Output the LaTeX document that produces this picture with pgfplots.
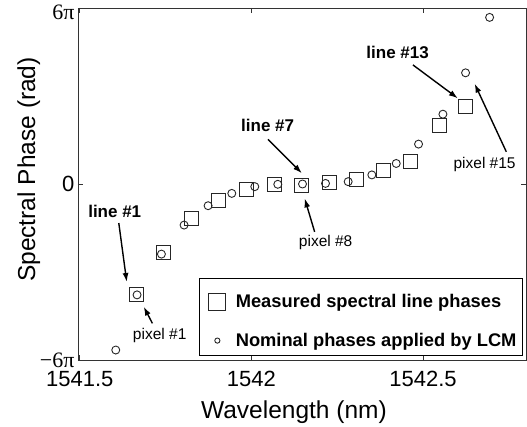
\documentclass[border=0pt]{standalone}
\usepackage{fontspec}
\setmainfont{Liberation Sans}
\newfontfamily\seriffont{Liberation Serif}
\usepackage{pgfplots}
\pgfplotsset{compat=1.18}
\usetikzlibrary{arrows.meta}
\begin{document}
\begin{tikzpicture}
\useasboundingbox (-78pt,-66pt) rectangle (449pt,360pt);
\begin{axis}[
  at={(0,0)}, anchor=south west,
  scale only axis, width=448pt, height=352pt,
  xmin=1541.495, xmax=1542.8, ymin=-6, ymax=6,
  xtick={1541.5,1542,1542.5}, xticklabels={1541.5,1542,1542.5},
  ytick={-6,0}, yticklabels={{\seriffont −6π},0},
  extra y ticks={6}, extra y tick labels={{\seriffont 6π}},
  extra y tick style={yticklabel style={yshift=-4pt}},
  tick align=inside, major tick length=5pt,
  tick style={black!80, line width=0.8pt},
  x tick label style={font=\fontsize{22}{26}\selectfont, anchor=base, yshift=-26pt},
  y tick label style={font=\fontsize{22}{26}\selectfont},
  xlabel={Wavelength (nm)}, ylabel={Spectral Phase (rad)},
  xlabel style={at={(axis description cs:0.482,-0.148)}, anchor=center, font=\fontsize{24.5}{28}\selectfont},
  ylabel style={at={(axis description cs:-0.110,0.541)}, anchor=center, rotate=0, font=\fontsize{24.5}{28}\selectfont},
  clip=false,
  axis line style={black!80, line width=0.8pt},
  legend cell align=left,
  legend style={at={(axis description cs:0.993,0.233)}, anchor=north east,
    draw=black, line width=0.8pt, font=\bfseries\fontsize{18.3}{21}\selectfont,
    inner xsep=4pt, inner ysep=5pt, row sep=20pt},
]
\addplot[only marks, mark=square, mark size=7pt, black!85, line width=0.9pt,
  legend image code/.code={\path (-14pt,0) (16pt,18pt); \draw[mark=square, mark size=8.5pt, black!85, line width=0.9pt] plot coordinates {(0pt,0pt)};}]
coordinates {
(1541.665,-3.78) (1541.745,-2.35) (1541.825,-1.19) (1541.905,-0.55)
(1541.985,-0.20) (1542.068,-0.03) (1542.147,-0.06) (1542.228,0.06)
(1542.307,0.17) (1542.385,0.45) (1542.463,0.76) (1542.548,1.98)
(1542.624,2.66)
};
\addlegendentry{Measured spectral line phases}
\addplot[only marks, mark=o, mark size=4pt, black!85, line width=0.9pt,
  legend image code/.code={\path (-14pt,0) (16pt,0); \draw[mark=o, mark size=2.6pt, black!85, line width=0.9pt] plot coordinates {(0pt,0pt)};}]
coordinates {
(1541.605,-5.66) (1541.667,-3.78) (1541.738,-2.39) (1541.804,-1.40)
(1541.874,-0.74) (1541.943,-0.32) (1542.010,-0.09) (1542.077,-0.01)
(1542.149,0.00) (1542.216,0.02) (1542.282,0.08) (1542.351,0.31)
(1542.422,0.70) (1542.487,1.36) (1542.558,2.38) (1542.624,3.79)
(1542.694,5.68)
};
\addlegendentry{Nominal phases applied by LCM}
% annotations
\tikzset{ann/.style={-{Latex[length=9pt,width=6pt]}, line width=1.4pt, black}}
\node[font=\bfseries\fontsize{17}{20}\selectfont] at (axis cs:1541.602,-0.92) {line \#1};
\draw[ann] (axis cs:1541.6138,-1.33) -- (axis cs:1541.637,-3.34);
\node[font=\fontsize{15.5}{18}\selectfont] at (axis cs:1541.733,-5.18) {pixel \#1};
\draw[ann] (axis cs:1541.7117,-4.75) -- (axis cs:1541.6864,-4.18);
\node[font=\bfseries\fontsize{17}{20}\selectfont] at (axis cs:1542.0475,1.98) {line \#7};
\draw[ann] (axis cs:1542.0483,1.52) -- (axis cs:1542.1473,0.365);
\node[font=\fontsize{15.5}{18}\selectfont] at (axis cs:1542.2164,-1.98) {pixel \#8};
\draw[ann] (axis cs:1542.1843,-1.63) -- (axis cs:1542.1552,-0.49);
\node[font=\bfseries\fontsize{17}{20}\selectfont] at (axis cs:1542.426,4.47) {line \#13};
\draw[ann] (axis cs:1542.4706,4.06) -- (axis cs:1542.6016,2.92);
\node[font=\fontsize{15.5}{18}\selectfont] at (axis cs:1542.6794,0.68) {pixel \#15};
\draw[ann] (axis cs:1542.7426,1.10) -- (axis cs:1542.6503,3.42);
\end{axis}
\end{tikzpicture}
\end{document}
